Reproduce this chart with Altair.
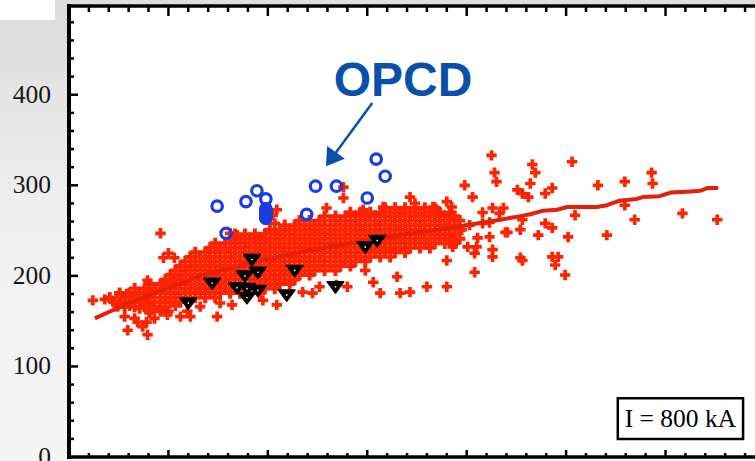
import altair as alt
import pandas as pd

# ---------------- data ----------------
# dense core of the red "+" cloud, listed column by column
band_x = [
    41,
    46,
    51, 51,
    56, 56,
    61, 61,
    66, 66, 66,
    71, 71,
    76, 76, 76,
    81, 81, 81, 81,
    86, 86, 86,
    92, 92, 92, 92,
    97, 97, 97, 97,
    102, 102, 102, 102,
    107, 107, 107, 107,
    112, 112, 112, 112, 112,
    117, 117, 117, 117, 117,
    122, 122, 122, 122, 122,
    127, 127, 127, 127, 127, 127,
    132, 132, 132, 132, 132,
    137, 137, 137, 137, 137, 137,
    142, 142, 142, 142, 142, 142,
    147, 147, 147, 147, 147, 147, 147,
    152, 152, 152, 152, 152, 152,
    157, 157, 157, 157, 157, 157,
    162, 162, 162, 162, 162, 162, 162,
    167, 167, 167, 167, 167, 167, 167,
    172, 172, 172, 172, 172, 172, 172,
    177, 177, 177, 177, 177, 177, 177,
    182, 182, 182, 182, 182, 182, 182,
    187, 187, 187, 187, 187, 187, 187,
    192, 192, 192, 192, 192, 192, 192,
    197, 197, 197, 197, 197, 197, 197,
    202, 202, 202, 202, 202, 202, 202,
    207, 207, 207, 207, 207, 207, 207,
    212, 212, 212, 212, 212, 212, 212,
    217, 217, 217, 217, 217, 217, 217,
    222, 222, 222, 222, 222, 222, 222,
    227, 227, 227, 227, 227, 227, 227,
    232, 232, 232, 232, 232, 232, 232,
    237, 237, 237, 237, 237, 237,
    242, 242, 242, 242, 242, 242, 242,
    247, 247, 247, 247, 247, 247,
    252, 252, 252, 252, 252, 252,
    257, 257, 257, 257, 257, 257, 257,
    263, 263, 263, 263, 263, 263,
    268, 268, 268, 268, 268, 268, 268,
    273, 273, 273, 273, 273, 273,
    278, 278, 278, 278, 278, 278,
    283, 283, 283, 283, 283, 283, 283,
    288, 288, 288, 288, 288, 288,
    293, 293, 293, 293, 293, 293,
    298, 298, 298, 298, 298, 298,
    303, 303, 303, 303, 303, 303,
    308, 308, 308, 308, 308,
    313, 313, 313, 313, 313, 313,
    318, 318, 318, 318, 318, 318,
    323, 323, 323, 323, 323, 323,
    328, 328, 328, 328, 328, 328,
    333, 333, 333, 333, 333,
    338, 338, 338, 338, 338, 338,
    343, 343, 343, 343, 343,
    348, 348, 348, 348, 348,
    353, 353, 353, 353, 353,
    358, 358, 358, 358, 358,
    363, 363, 363, 363, 363,
    368, 368, 368, 368, 368,
    373, 373, 373, 373,
    378, 378, 378, 378,
    383, 383, 383, 383,
    388, 388, 388, 388,
    393, 393, 393,
]
band_y = [
    176,
    171,
    181, 171,
    176, 166,
    181, 171,
    186, 176, 166,
    181, 171,
    186, 176, 166,
    191, 181, 171, 161,
    186, 176, 166,
    191, 181, 171, 161,
    196, 186, 176, 166,
    201, 191, 181, 171,
    206, 196, 186, 176,
    211, 201, 191, 181, 171,
    216, 206, 196, 186, 176,
    221, 211, 201, 191, 181,
    226, 216, 206, 196, 186, 176,
    221, 211, 201, 191, 181,
    226, 216, 206, 196, 186, 176,
    231, 221, 211, 201, 191, 181,
    236, 226, 216, 206, 196, 186, 176,
    231, 221, 211, 201, 191, 181,
    236, 226, 216, 206, 196, 186,
    241, 231, 221, 211, 201, 191, 181,
    246, 236, 226, 216, 206, 196, 186,
    241, 231, 221, 211, 201, 191, 181,
    246, 236, 226, 216, 206, 196, 186,
    241, 231, 221, 211, 201, 191, 181,
    246, 236, 226, 216, 206, 196, 186,
    241, 231, 221, 211, 201, 191, 181,
    246, 236, 226, 216, 206, 196, 186,
    251, 241, 231, 221, 211, 201, 191,
    246, 236, 226, 216, 206, 196, 186,
    251, 241, 231, 221, 211, 201, 191,
    256, 246, 236, 226, 216, 206, 196,
    251, 241, 231, 221, 211, 201, 191,
    256, 246, 236, 226, 216, 206, 196,
    261, 251, 241, 231, 221, 211, 201,
    256, 246, 236, 226, 216, 206,
    261, 251, 241, 231, 221, 211, 201,
    256, 246, 236, 226, 216, 206,
    261, 251, 241, 231, 221, 211,
    266, 256, 246, 236, 226, 216, 206,
    261, 251, 241, 231, 221, 211,
    266, 256, 246, 236, 226, 216, 206,
    261, 251, 241, 231, 221, 211,
    266, 256, 246, 236, 226, 216,
    270, 261, 251, 241, 231, 221, 211,
    266, 256, 246, 236, 226, 216,
    270, 261, 251, 241, 231, 221,
    266, 256, 246, 236, 226, 216,
    270, 261, 251, 241, 231, 221,
    266, 256, 246, 236, 226,
    270, 261, 251, 241, 231, 221,
    275, 266, 256, 246, 236, 226,
    270, 261, 251, 241, 231, 221,
    275, 266, 256, 246, 236, 226,
    270, 261, 251, 241, 231,
    275, 266, 256, 246, 236, 226,
    270, 261, 251, 241, 231,
    275, 266, 256, 246, 236,
    270, 261, 251, 241, 231,
    275, 266, 256, 246, 236,
    270, 261, 251, 241, 231,
    275, 266, 256, 246, 236,
    270, 261, 251, 241,
    266, 256, 246, 236,
    270, 261, 251, 241,
    266, 256, 246, 236,
    261, 251, 241,
]

# scattered "+" points around the core
scatter_x = [
    24, 36, 44, 51, 58, 65, 72, 79, 84, 49, 61, 71, 81, 56, 66, 59, 74, 78,
    79, 81, 86, 99, 112, 122, 79, 92, 95, 100, 106, 95, 104, 69, 92, 100, 107, 119,
    132, 149, 152, 164, 209, 195,
    162, 169, 192, 205, 207, 209, 259, 276, 276, 296, 316, 343, 348, 380, 385, 370, 366,
    235, 245, 252, 269, 280, 306, 313, 330, 333, 343, 360, 380, 408, 298,
    398, 406, 425, 428, 430, 451, 456, 416, 426, 433, 423, 441, 454, 423, 426, 426,
    401, 408, 380, 454, 437, 456, 439, 383, 416, 410, 386, 386, 403, 395, 411,
    472, 479, 486, 466, 469, 464, 462, 479, 486, 506, 532, 559, 586, 587, 509, 502,
    541, 569, 559, 617, 652, 456, 486, 492, 489, 499,
]
scatter_y = [
    173, 174, 172, 177, 180, 177, 173, 178, 182, 166, 167, 164, 169, 155, 153, 140, 144, 149,
    135, 159, 153, 157, 155, 155, 195, 247, 220, 225, 220, 191, 193, 149, 164, 161, 167, 161,
    166, 155, 170, 168, 168, 173,
    247, 245, 243, 267, 258, 273, 275, 298, 286, 273, 276, 287, 280, 282, 276, 273, 276,
    182, 181, 188, 190, 188, 193, 181, 199, 181, 182, 188, 188, 204, 206,
    300, 287, 333, 314, 304, 295, 291, 270, 275, 269, 259, 248, 251, 243, 229, 221,
    232, 225, 217, 220, 275, 262, 248, 265, 258, 232, 240, 232, 256, 251, 242,
    245, 258, 253, 323, 314, 302, 287, 291, 297, 326, 300, 304, 314, 302, 267, 243,
    245, 262, 278, 269, 262, 217, 221, 221, 212, 201,
]

# fitted trend curve
fit_x = [26, 44, 61, 77, 132, 182, 232, 283, 333, 383, 434, 454, 464, 477, 491, 501,
         531, 541, 554, 571, 577, 594, 605, 622, 635, 642, 653]
fit_y = [153, 162, 170, 177, 200, 214, 226, 236, 245, 253, 262, 266, 268, 272, 273, 276,
         276, 278, 283, 285, 287, 288, 292, 293, 294, 297, 297]

# black downward triangles
tri_x = [120, 144, 184, 177, 190, 169, 179, 179, 190, 219, 227, 268, 298, 310]
tri_y = [170, 192, 218, 200, 204, 187, 186, 176, 184, 179, 206, 188, 232, 239]

# blue open circles (OPCD); the last ones overlap into a solid stack
opcd_x = [149, 158, 178, 189, 198, 239, 248, 269, 300, 309, 318,
          198, 198, 198, 198, 198, 198, 198, 198]
opcd_y = [277, 247, 282, 294, 285, 268, 299, 299, 286, 329, 310,
          274, 272.5, 271, 269.5, 268, 266.5, 265, 263.5]

# annotation: label, arrow from (arrow_x[0], arrow_y[0]) to the head
label_text = ["OPCD"]
label_x, label_y = [336], [414]
arrow_x = [305, 265]
arrow_y = [391, 331]

# current box
box_text = ["I = 800 kA"]
box_x, box_x2 = [552], [678]
box_y, box_y2 = [20], [65]

# axis tick positions and labels
y_labels = [0, 100, 200, 300, 400]
y_minor = [20, 40, 60, 80, 120, 140, 160, 180, 220, 240, 260, 280, 320, 340, 360, 380,
           420, 440, 460, 480]
y_major = [100, 200, 300, 400]
x_minor = [20, 40, 60, 80, 120, 140, 160, 180, 220, 240, 260, 280, 320, 340, 360, 380,
           420, 440, 460, 480, 520, 540, 560, 580, 620, 640, 660, 680]
x_major = [100, 200, 300, 400, 500, 600]

assert len(band_x) == len(band_y)
assert len(scatter_x) == len(scatter_y)
assert len(fit_x) == len(fit_y)
assert len(opcd_x) == len(opcd_y)

# ---------------- chart ----------------
W, H = 686, 451
RED = "#ff2300"
BLUE = "#1a3de0"
NAVY = "#0a50aa"

PLUS = "M-0.35,-1H0.35V-0.35H1V0.35H0.35V1H-0.35V0.35H-1V-0.35H-0.35Z"
TRI = "M-1,-0.6L1,-0.6L0,0.75Z"
HEAD = "M0,-1L1,0.55L-1,0.55Z"

xs = alt.Scale(domain=[0, 690], nice=False, zero=False)
ys = alt.Scale(domain=[0, 498], nice=False, zero=False)

one = pd.DataFrame({"k": [0]})


def X(f):
    return alt.X(f, type="quantitative", scale=xs, axis=None)


def Y(f):
    return alt.Y(f, type="quantitative", scale=ys, axis=None)


# slide-style grey margin
bg_left = alt.Chart(one).mark_rect(fill={
    "gradient": "linear", "x1": 0, "y1": 0, "x2": 0, "y2": 1,
    "stops": [
        {"offset": 0.0, "color": "#dcdcdc"},
        {"offset": 0.14, "color": "#e0e0e0"},
        {"offset": 0.2, "color": "#e5e5e5"},
        {"offset": 0.33, "color": "#e9e9e9"},
        {"offset": 0.42, "color": "#eeeeee"},
        {"offset": 0.65, "color": "#f2f2f2"},
        {"offset": 1.0, "color": "#f5f5f5"},
    ]}).encode(x=alt.value(-69), x2=alt.value(0), y=alt.value(-6), y2=alt.value(H + 4))
bg_top = alt.Chart(one).mark_rect(fill="#dedede").encode(
    x=alt.value(0), x2=alt.value(W), y=alt.value(-6), y2=alt.value(0))
bg_patch = alt.Chart(one).mark_rect(fill="white").encode(
    x=alt.value(-69), x2=alt.value(-14), y=alt.value(-6), y2=alt.value(14))

# y tick labels, right-aligned left of the frame
y_text = alt.Chart(pd.DataFrame({"v": y_labels})).mark_text(
    font="Liberation Serif", fontSize=25.5, color="#161616",
    align="right", baseline="middle"
).encode(y=Y("v"), x=alt.value(-18), text=alt.Text("v:Q", format="d"))

band = alt.Chart(pd.DataFrame({"x": band_x, "y": band_y})).mark_point(
    shape=PLUS, filled=True, size=126, color=RED, opacity=1, strokeWidth=0
).encode(x=X("x"), y=Y("y"))
scatter = alt.Chart(pd.DataFrame({"x": scatter_x, "y": scatter_y})).mark_point(
    shape=PLUS, filled=True, size=108, color=RED, opacity=1, strokeWidth=0
).encode(x=X("x"), y=Y("y"))
fit = alt.Chart(pd.DataFrame({"x": fit_x, "y": fit_y})).mark_line(
    color="#e3200b", strokeWidth=4, strokeJoin="round"
).encode(x=X("x"), y=Y("y"))

tri_df = pd.DataFrame({"x": tri_x, "y": tri_y})
tris = alt.Chart(tri_df).mark_point(
    shape=TRI, filled=True, size=270, color="black", opacity=1,
    stroke="black", strokeWidth=1.6, strokeJoin="round"
).encode(x=X("x"), y=Y("y"))
tri_dots = alt.Chart(tri_df).mark_point(
    shape="circle", filled=True, size=3, color="white", opacity=1
).encode(x=X("x"), y=Y("y"))

opcd = alt.Chart(pd.DataFrame({"x": opcd_x, "y": opcd_y})).mark_point(
    shape="circle", filled=False, size=110, color=BLUE, strokeWidth=3.2, opacity=1
).encode(x=X("x"), y=Y("y"))

arrow_line = alt.Chart(pd.DataFrame({"x": arrow_x, "y": arrow_y})).mark_line(
    color=NAVY, strokeWidth=2.5
).encode(x=X("x"), y=Y("y"))
arrow_head = alt.Chart(pd.DataFrame({"x": arrow_x[1:], "y": arrow_y[1:]})).mark_point(
    shape=HEAD, filled=True, size=484, angle=216, color=NAVY, opacity=1
).encode(x=X("x"), y=Y("y"))
label = alt.Chart(pd.DataFrame({"x": label_x, "y": label_y, "t": label_text})).mark_text(
    font="Liberation Sans", fontWeight="bold", fontSize=48, color=NAVY
).encode(x=X("x"), y=Y("y"), text="t:N")

box = alt.Chart(pd.DataFrame({"x": box_x, "x2": box_x2, "y": box_y, "y2": box_y2})).mark_rect(
    fill="white", stroke="black", strokeWidth=2.5
).encode(x=X("x"), x2="x2", y=Y("y"), y2="y2")
box_label = alt.Chart(pd.DataFrame({
    "x": [(box_x[0] + box_x2[0]) / 2], "y": [(box_y[0] + box_y2[0]) / 2], "t": box_text
})).mark_text(font="Liberation Serif", fontSize=25.5, color="black").encode(
    x=X("x"), y=Y("y"), text="t:N")


# frame and inward ticks
def ticks_y(vals, length):
    return alt.Chart(pd.DataFrame({"v": vals})).mark_rule(color="black", strokeWidth=2.5).encode(
        y=Y("v"), x=alt.value(0), x2=alt.value(length))


def ticks_x(vals, y0, y1):
    return alt.Chart(pd.DataFrame({"v": vals})).mark_rule(color="black", strokeWidth=2.5).encode(
        x=X("v"), y=alt.value(y0), y2=alt.value(y1))


frame_left = alt.Chart(one).mark_rule(color="black", strokeWidth=4).encode(
    x=alt.value(0), y=alt.value(-2), y2=alt.value(H + 2))
frame_top = alt.Chart(one).mark_rule(color="black", strokeWidth=3.5).encode(
    x=alt.value(-2), x2=alt.value(W), y=alt.value(0))
frame_bottom = alt.Chart(one).mark_rule(color="black", strokeWidth=3.5).encode(
    x=alt.value(-2), x2=alt.value(W), y=alt.value(H))

chart = alt.layer(
    bg_left, bg_top, bg_patch, y_text,
    band, scatter, fit, tris, tri_dots, opcd,
    arrow_line, arrow_head, label, box, box_label,
    ticks_y(y_minor, 5), ticks_y(y_major, 9),
    ticks_x(x_minor, 0, 6), ticks_x(x_major, 0, 10),
    ticks_x(x_minor, H, H - 4), ticks_x(x_major, H, H - 7),
    frame_left, frame_top, frame_bottom,
).properties(
    width=W, height=H,
    padding={"left": 69, "top": 6, "right": 0, "bottom": 4},
    autosize=alt.AutoSizeParams(type="none"),
    background="#f4f4f4",
).configure_view(stroke=None, fill="white")

chart.save("out.html", embed_options={"renderer": "svg", "actions": False})
